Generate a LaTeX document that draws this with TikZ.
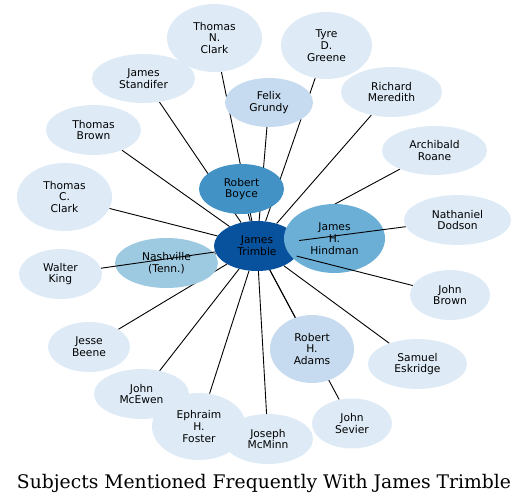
\documentclass[tikz,border=0pt]{standalone}
\usepackage{fontspec}
\newfontfamily\nodefont{DejaVu Sans}
\newfontfamily\titlefont{DejaVu Serif}
\usetikzlibrary{shapes.geometric}
\pgfdeclarelayer{background}
\pgfsetlayers{background,main}
\definecolor{cA}{HTML}{08519C}
\definecolor{cB}{HTML}{4292C6}
\definecolor{cC}{HTML}{6BAED6}
\definecolor{cD}{HTML}{9ECAE1}
\definecolor{cE}{HTML}{C6DBEF}
\definecolor{cF}{HTML}{DEEBF7}
\tikzset{
  subj/.style n args={3}{ellipse, inner sep=0pt, fill=#3, draw=none,
    minimum width=#1pt, minimum height=#2pt, align=center,
    font=\nodefont\fontsize{10.7}{11.7}\selectfont, text=black},
  link/.style={draw=black, line width=0.9pt}
}
\begin{document}
\begin{tikzpicture}[x=1pt,y=-1pt]
\useasboundingbox (0,0) rectangle (528,500);
% nodes (drawing order matters for overlaps)
\node[subj={103}{50}{cD}] (nashville) at (166.5,263) {Nashville\\(Tenn.)};
\node[subj={86}{50}{cA}] (trimble) at (257,246) {James\\Trimble};
\node[subj={101}{69}{cC}] (hindman) at (334.5,238.5) {James\\H.\\Hindman};
\node[subj={85}{50}{cB}] (boyce) at (241.5,189) {Robert\\Boyce};
\node[subj={88}{49}{cE}] (grundy) at (269,102.5) {Felix\\Grundy};
\node[subj={84}{68}{cE}] (adams) at (312,349) {Robert\\H.\\Adams};
\node[subj={95}{68}{cF}] (tnclark) at (214.5,38) {Thomas\\N.\\Clark};
\node[subj={91}{67}{cF}] (greene) at (326.5,45.5) {Tyre\\D.\\Greene};
\node[subj={103}{49}{cF}] (standifer) at (143.5,78.5) {James\\Standifer};
\node[subj={101}{50}{cF}] (meredith) at (391.5,92) {Richard\\Meredith};
\node[subj={95}{50}{cF}] (tbrown) at (93.5,130) {Thomas\\Brown};
\node[subj={105}{49}{cF}] (roane) at (434.5,150.5) {Archibald\\Roane};
\node[subj={95}{68}{cF}] (tcclark) at (64.5,197) {Thomas\\C.\\Clark};
\node[subj={107}{50}{cF}] (dodson) at (457.5,220) {Nathaniel\\Dodson};
\node[subj={83}{50}{cF}] (wking) at (60.5,274) {Walter\\King};
\node[subj={80}{50}{cF}] (jbrown) at (450,295) {John\\Brown};
\node[subj={82}{50}{cF}] (beene) at (89,347) {Jesse\\Beene};
\node[subj={99}{50}{cF}] (eskridge) at (417.5,364) {Samuel\\Eskridge};
\node[subj={95}{50}{cF}] (mcewen) at (141.5,394) {John\\McEwen};
\node[subj={80}{50}{cF}] (sevier) at (352,423.5) {John\\Sevier};
\node[subj={90}{50}{cF}] (mcminn) at (268,439) {Joseph\\McMinn};
\node[subj={94}{67}{cF}] (foster) at (199,426.5) {Ephraim\\H.\\Foster};
% edges hidden below nodes
\begin{pgfonlayer}{background}
\foreach \t in {nashville,hindman,boyce,grundy,adams,tnclark,greene,standifer,meredith,tbrown,roane,tcclark,beene,eskridge,mcewen,sevier,mcminn,foster}
  \draw[link] (trimble) -- (\t);
\end{pgfonlayer}
% edges drawn above nodes
\draw[link] (trimble) -- (wking);
\draw[link] (trimble) -- (dodson);
\draw[link] (trimble) -- (jbrown);
% title
\node[anchor=base, inner sep=0pt] (title) at (264,488) {\resizebox{494pt}{!}{\titlefont\fontsize{18}{22}\selectfont Subjects Mentioned Frequently With James Trimble}};
\end{tikzpicture}
\end{document}
